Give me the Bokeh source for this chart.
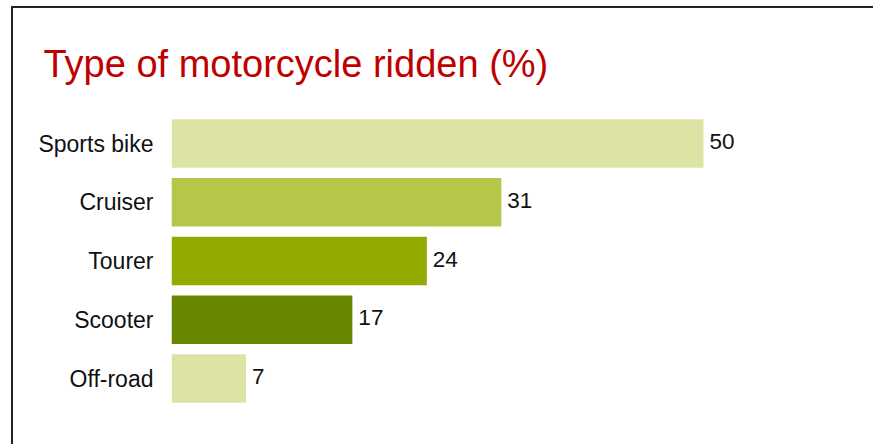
from bokeh.plotting import figure
from bokeh.models import ColumnDataSource, FactorRange, Range1d
from bokeh.core.properties import value
from bokeh.embed import file_html
from bokeh.resources import INLINE

categories = ["Sports bike", "Cruiser", "Tourer", "Scooter", "Off-road"]
values = [50, 31, 24, 17, 7]
colors = ["#DCE3A5", "#B6C649", "#93AA00", "#678800", "#DCE3A5"]
title_text = "Type of motorcycle ridden (%)"

FONT = "Liberation Sans"

src = ColumnDataSource(dict(
    cat=categories,
    val=values,
    color=colors,
    label=[str(v) for v in values],
))

p = figure(
    width=862, height=438,
    y_range=FactorRange(factors=categories[::-1], range_padding=0.3,
                        range_padding_units="absolute"),
    x_range=Range1d(0, 66.17),
    output_backend="svg", toolbar_location=None,
    min_border_left=158, min_border_right=0, min_border_top=88,
    min_border_bottom=21,
)

p.hbar(y="cat", right="val", left=0, height=0.826, color="color",
       line_color=None, source=src)

p.text(x="val", y="cat", text="label", source=src, x_offset=6, y_offset=-2,
       text_baseline="middle", text_align="left",
       text_font=value(FONT), text_font_size="22.5px", text_color="#111111")

p.title.text = title_text
p.title.text_font = FONT
p.title.text_font_size = "38px"
p.title.text_font_style = "normal"
p.title.text_color = "#C00000"
p.title.align = "left"
p.title.offset = -128
p.title.standoff = 23

p.xaxis.visible = False
p.yaxis.axis_line_color = None
p.yaxis.major_tick_line_color = None
p.yaxis.minor_tick_line_color = None
p.yaxis.major_label_standoff = 12
p.yaxis.major_label_text_font = FONT
p.yaxis.major_label_text_font_size = "23px"
p.yaxis.major_label_text_color = "#111111"

p.xgrid.visible = False
p.ygrid.visible = False
p.outline_line_color = None
p.background_fill_color = "white"
p.border_fill_color = "white"

p.styles = {
    "border-left": "2px solid #222222",
    "border-top": "2px solid #222222",
    "margin-left": "11px",
    "margin-top": "6px",
}

open("out.html", "w").write(file_html(p, INLINE))
